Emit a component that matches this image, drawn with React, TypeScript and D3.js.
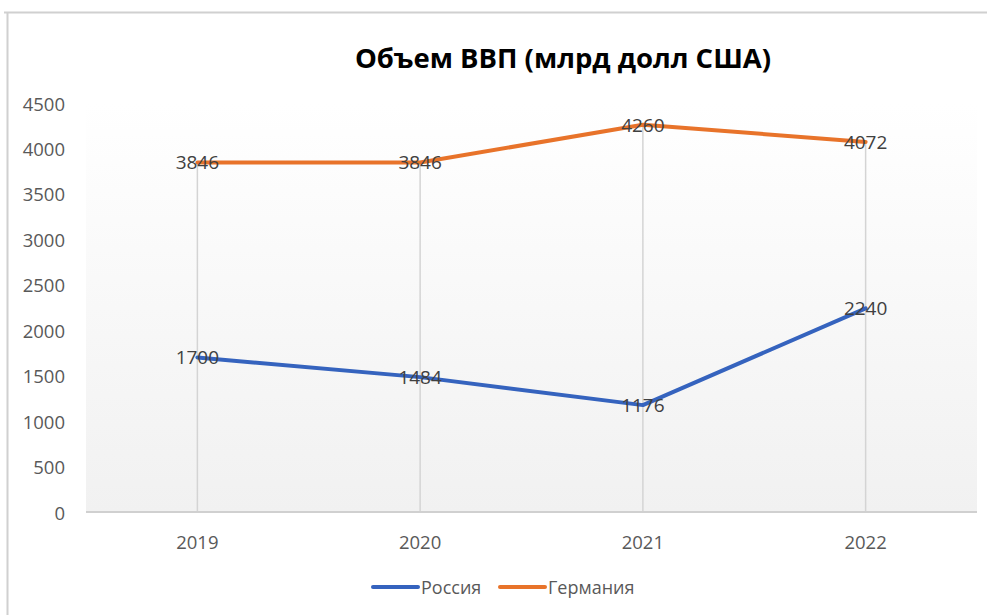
import React from 'react';
import * as d3 from 'd3';

const categories = ['2019', '2020', '2021', '2022'];
const russia = [1700, 1484, 1176, 2240];
const germany = [3846, 3846, 4260, 4072];
const yTicks = [0, 500, 1000, 1500, 2000, 2500, 3000, 3500, 4000, 4500];
const seriesNames = ['Россия', 'Германия'];
const title = 'Объем ВВП (млрд долл США)';

const W = 987;
const H = 615;
const plot = { left: 86, right: 977, top: 103, bottom: 512 };
const colors = ['#3563BE', '#E8732A'];
const FONT = '"Open Sans", "Noto Sans", sans-serif';

export default function App() {
  const x = d3.scaleBand<string>().domain(categories).range([plot.left, plot.right]).padding(0);
  const cx = (c: string) => (x(c) as number) + x.bandwidth() / 2;
  const y = d3.scaleLinear().domain([0, 4500]).range([plot.bottom, plot.top]);
  const line = d3
    .line<number>()
    .x((_, i) => cx(categories[i]))
    .y((d) => y(d));
  const series = [russia, germany];

  return (
    <svg width={W} height={H} style={{ position: 'absolute', left: 0, top: 0, background: '#fff' }}>
      <defs>
        <linearGradient id="bg" x1="0" y1="0" x2="0" y2="1">
          <stop offset="0" stopColor="#ffffff" />
          <stop offset="1" stopColor="#f1f1f1" />
        </linearGradient>
      </defs>
      <rect x={0} y={0} width={W} height={H} fill="#fff" />
      {/* outer chart border */}
      <line x1={4} x2={W} y1={12.5} y2={12.5} stroke="#d0d0d0" strokeWidth={2} />
      <line x1={7.5} x2={7.5} y1={12} y2={H} stroke="#d0d0d0" strokeWidth={2} />
      {/* plot area */}
      <rect
        x={plot.left}
        y={plot.top}
        width={plot.right - plot.left}
        height={plot.bottom - plot.top}
        fill="url(#bg)"
      />
      {/* title */}
      <text
        x={563}
        y={57}
        textAnchor="middle"
        dominantBaseline="central"
        fontFamily={FONT}
        fontWeight={700}
        fontSize={27.5}
        fill="#000"
      >
        {title}
      </text>
      {/* y tick labels */}
      {yTicks.map((t) => (
        <text
          key={t}
          x={65}
          y={y(t)}
          textAnchor="end"
          dominantBaseline="central"
          fontFamily={FONT}
          fontSize={18.5}
          fill="#595959"
        >
          {t}
        </text>
      ))}
      {/* drop lines */}
      {categories.map((c, i) => (
        <line
          key={c}
          x1={cx(c)}
          x2={cx(c)}
          y1={y(Math.max(russia[i], germany[i]))}
          y2={y(0)}
          stroke="#d4d4d4"
          strokeWidth={1.5}
        />
      ))}
      {/* x axis line */}
      <line x1={plot.left} x2={plot.right} y1={y(0)} y2={y(0)} stroke="#d0d0d0" strokeWidth={2} />
      {/* x tick labels */}
      {categories.map((c) => (
        <text
          key={c}
          x={cx(c)}
          y={541}
          textAnchor="middle"
          dominantBaseline="central"
          fontFamily={FONT}
          fontSize={18.5}
          fill="#595959"
        >
          {c}
        </text>
      ))}
      {/* series lines */}
      {series.map((s, k) => (
        <path
          key={k}
          d={line(s) || ''}
          fill="none"
          stroke={colors[k]}
          strokeWidth={4}
          strokeLinejoin="round"
          strokeLinecap="round"
        />
      ))}
      {/* data labels */}
      {series.map((s, k) =>
        s.map((v, i) => (
          <text
            key={`${k}-${i}`}
            x={cx(categories[i])}
            y={y(v)}
            textAnchor="middle"
            dominantBaseline="central"
            fontFamily={FONT}
            fontSize={19}
            fill="#404040"
          >
            {v}
          </text>
        ))
      )}
      {/* legend */}
      {[
        { x0: 373, tx: 421 },
        { x0: 500, tx: 548 },
      ].map((p, k) => (
        <g key={k}>
          <line
            x1={p.x0}
            x2={p.x0 + 45}
            y1={587}
            y2={587}
            stroke={colors[k]}
            strokeWidth={4}
            strokeLinecap="round"
          />
          <text
            x={p.tx}
            y={587}
            dominantBaseline="central"
            fontFamily={FONT}
            fontSize={18}
            fill="#595959"
          >
            {seriesNames[k]}
          </text>
        </g>
      ))}
    </svg>
  );
}
